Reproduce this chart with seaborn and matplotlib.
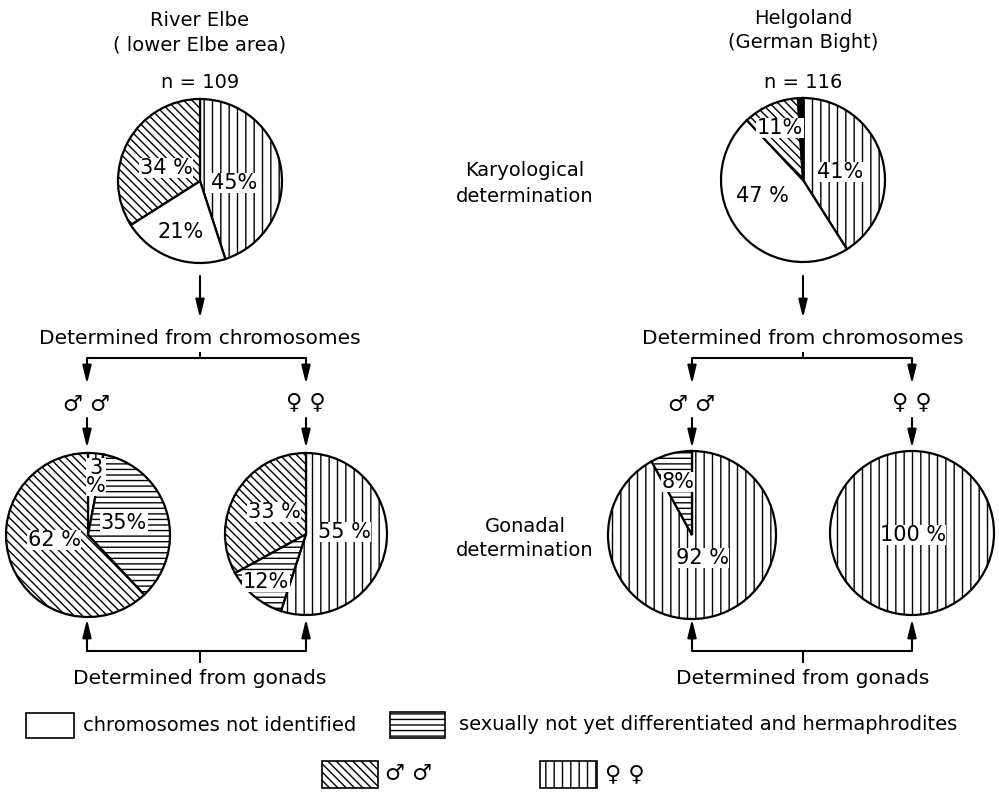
import matplotlib
matplotlib.use("Agg")
import matplotlib.pyplot as plt
from matplotlib.patches import Rectangle
import seaborn as sns

sns.set_theme(style="white")
plt.rcParams['font.family'] = ['DejaVu Sans']
plt.rcParams['text.color'] = 'black'
plt.rcParams['hatch.linewidth'] = 1.0
plt.rcParams['hatch.color'] = 'black'

# ---------------- data ----------------
# categories: female (vertical), none (white), male (diagonal), undiff (horizontal), other (black)
elbe_karyo_vals = [45, 21, 34]
elbe_karyo_cats = ['female', 'none', 'male']
elbe_karyo_lbls = ['45%', '21%', '34 %']

helgo_karyo_vals = [41, 47, 11, 1]
helgo_karyo_cats = ['female', 'none', 'male', 'other']
helgo_karyo_lbls = ['41%', '47 %', '11%', '']

elbe_m_vals = [3, 35, 62]
elbe_m_cats = ['female', 'undiff', 'male']
elbe_m_lbls = ['3\n%', '35%', '62 %']

elbe_f_vals = [55, 12, 33]
elbe_f_cats = ['female', 'undiff', 'male']
elbe_f_lbls = ['55 %', '12%', '33 %']

helgo_m_vals = [92, 8]
helgo_m_cats = ['female', 'undiff']
helgo_m_lbls = ['92 %', '8%']

helgo_f_vals = [100]
helgo_f_cats = ['female']
helgo_f_lbls = ['100 %']

n_elbe = 109
n_helgo = 116

legend_items = [('none', 'chromosomes not identified'),
                ('undiff', 'sexually not yet differentiated and hermaphrodites'),
                ('male', '\u2642 \u2642'),
                ('female', '\u2640 \u2640')]

# ---------------- styles ----------------
HATCH = {'female': '||', 'none': '', 'male': '\\\\\\\\', 'undiff': '---', 'other': ''}
FACE = {'female': 'white', 'none': 'white', 'male': 'white', 'undiff': 'white', 'other': 'black'}

W, H = 999, 794
fig = plt.figure(figsize=(W / 100, H / 100), dpi=100)
ax = fig.add_axes([0, 0, 1, 1])

FS = 14
FSP = 15


def draw_pie(vals, cats, lbls, center, r, lblpos):
    ax.pie(vals, colors=[FACE[c] for c in cats], hatch=[HATCH[c] for c in cats],
           startangle=-90, counterclock=True, center=center, radius=r, frame=True,
           wedgeprops=dict(edgecolor='black', linewidth=1.6))
    for lb, (x, y) in zip(lbls, lblpos):
        if lb:
            ax.text(x, y, lb, ha='center', va='center', fontsize=FSP, linespacing=0.85,
                    bbox=dict(facecolor='white', edgecolor='none', pad=0.3))


# top pies
draw_pie(elbe_karyo_vals, elbe_karyo_cats, elbe_karyo_lbls, (200, 181), 82,
         [(234, 183), (181, 232), (166, 168)])
draw_pie(helgo_karyo_vals, helgo_karyo_cats, helgo_karyo_lbls, (803, 180), 82,
         [(840, 172), (762, 196), (780, 128), (0, 0)])
# bottom pies
draw_pie(elbe_m_vals, elbe_m_cats, elbe_m_lbls, (88, 535), 82,
         [(96, 477), (124, 523), (54, 540)])
draw_pie(elbe_f_vals, elbe_f_cats, elbe_f_lbls, (306, 534), 81,
         [(344, 532), (266, 582), (274, 512)])
draw_pie(helgo_m_vals, helgo_m_cats, helgo_m_lbls, (692, 535), 84,
         [(702, 558), (678, 482)])
draw_pie(helgo_f_vals, helgo_f_cats, helgo_f_lbls, (912, 533), 82,
         [(913, 535)])

# titles
ax.text(200, 21, 'River Elbe', ha='center', va='center', fontsize=FS)
ax.text(200, 45, '( lower Elbe area)', ha='center', va='center', fontsize=FS)
ax.text(200, 83, f'n = {n_elbe}', ha='center', va='center', fontsize=FS)
ax.text(803, 18, 'Helgoland', ha='center', va='center', fontsize=FS)
ax.text(803, 42, '(German Bight)', ha='center', va='center', fontsize=FS)
ax.text(803, 82, f'n = {n_helgo}', ha='center', va='center', fontsize=FS)

ax.text(525, 171, 'Karyological', ha='center', va='center', fontsize=FS)
ax.text(525, 196, 'determination', ha='center', va='center', fontsize=FS)
ax.text(525, 526, 'Gonadal', ha='center', va='center', fontsize=FS)
ax.text(525, 551, 'determination', ha='center', va='center', fontsize=FS)

AP = dict(arrowstyle='-|>,head_length=0.9,head_width=0.22', color='black', lw=1.5,
          shrinkA=0, shrinkB=0)


def arrow(x0, y0, x1, y1):
    ax.annotate('', xy=(x1, y1), xytext=(x0, y0), arrowprops=AP)


def line(xs, ys):
    ax.plot(xs, ys, color='black', lw=1.5, solid_capstyle='butt')


for cx, xl, xr in [(200, 87, 306), (803, 692, 912)]:
    arrow(cx, 276, cx, 318)
    ax.text(cx, 338, 'Determined from chromosomes', ha='center', va='center', fontsize=FS + 0.5)
    line([cx, cx], [352, 358])
    line([xl, xr], [358, 358])
    arrow(xl, 358, xl, 384)
    arrow(xr, 358, xr, 384)
    ax.text(xl, 405, '\u2642 \u2642', ha='center', va='center', fontsize=FS + 2)
    ax.text(xr, 402, '\u2640 \u2640', ha='center', va='center', fontsize=FS + 2)
    arrow(xl, 418, xl, 448)
    arrow(xr, 418, xr, 448)
    line([xl, xr], [651, 651])
    line([cx, cx], [651, 663])
    arrow(xl, 651, xl, 619)
    arrow(xr, 651, xr, 619)
    ax.text(cx, 679, 'Determined from gonads', ha='center', va='center', fontsize=FS + 0.5)

# legend
leg_boxes = [(26, 713, 48, 25), (390, 712, 55, 26), (322, 761, 56, 27), (540, 761, 57, 27)]
leg_text_x = [83, 459, 385, 605]
for (cat, txt), (bx, by, bw, bh), tx in zip(legend_items, leg_boxes, leg_text_x):
    ax.add_patch(Rectangle((bx, by), bw, bh, facecolor=FACE[cat], hatch=HATCH[cat],
                           edgecolor='black', lw=1.2))
    fs = FS + 2 if cat in ('male', 'female') else FS
    ax.text(tx, by + bh / 2, txt, ha='left', va='center', fontsize=fs)

ax.set_xlim(0, W)
ax.set_ylim(H, 0)
ax.set_aspect('auto')
ax.axis('off')
fig.savefig('out.png', dpi=100)
